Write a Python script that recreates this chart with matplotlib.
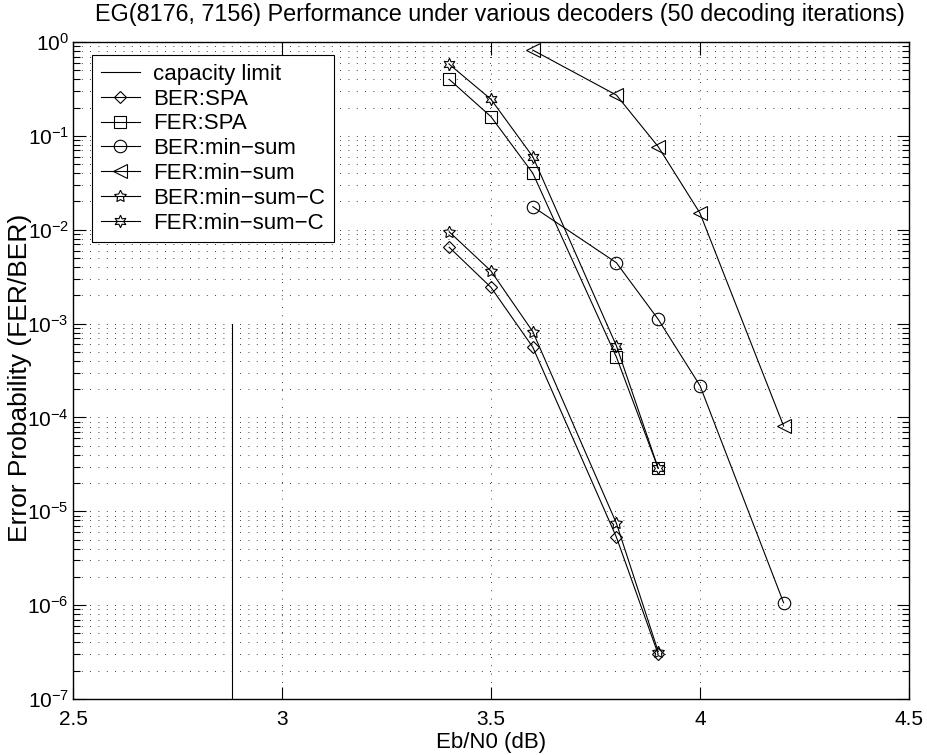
import matplotlib
matplotlib.use("Agg")
import matplotlib.pyplot as plt
from matplotlib.ticker import LogLocator, FixedLocator, FuncFormatter
import numpy as np

plt.rcParams['font.family'] = ['Liberation Sans', 'DejaVu Sans']
plt.rcParams['mathtext.fontset'] = 'custom'
plt.rcParams['mathtext.rm'] = 'Liberation Sans'
plt.rcParams['mathtext.it'] = 'Liberation Sans:italic'
plt.rcParams['mathtext.bf'] = 'Liberation Sans:bold'
plt.rcParams['axes.unicode_minus'] = True

# Data
cap_x = [2.88, 2.88]
cap_y = [1e-7, 1e-3]

snr_spa = [3.4, 3.5, 3.6, 3.8, 3.9]
ber_spa = [6.5e-3, 2.43e-3, 5.6e-4, 5.3e-6, 3.0e-7]
fer_spa = [0.40, 0.16, 0.040, 4.4e-4, 2.87e-5]

snr_ms = [3.6, 3.8, 3.9, 4.0, 4.2]
ber_ms = [0.0176, 4.45e-3, 1.11e-3, 2.18e-4, 1.06e-6]

snr_fms = [3.6, 3.8, 3.9, 4.0, 4.2]
fer_ms = [0.82, 0.272, 0.0767, 0.015, 8.1e-5]

snr_msc = [3.4, 3.5, 3.6, 3.8, 3.9]
ber_msc = [9.5e-3, 3.63e-3, 8.2e-4, 7.45e-6, 3.2e-7]
fer_msc = [0.58, 0.245, 0.060, 5.8e-4, 2.87e-5]

labels = ['capacity limit', 'BER:SPA', 'FER:SPA', 'BER:min\u2212sum',
          'FER:min\u2212sum', 'BER:min\u2212sum\u2212C', 'FER:min\u2212sum\u2212C']

xticks = [2.5, 3, 3.5, 4, 4.5]
xticklabels = ['2.5', '3', '3.5', '4', '4.5']

fig = plt.figure(figsize=(9.27, 7.55), dpi=100)
ax = fig.add_axes([73/927, 1-699/755, 836/927, 657/755])

lw = 0.8
common = dict(color='black', lw=lw, mfc='none', mec='black', mew=0.8)
ax.plot(cap_x, cap_y, color='black', lw=lw, label=labels[0])
ax.plot(snr_spa, ber_spa, marker='D', ms=6.5, label=labels[1], **common)
ax.plot(snr_spa, fer_spa, marker='s', ms=8, label=labels[2], **common)
ax.plot(snr_ms, ber_ms, marker='o', ms=9, label=labels[3], **common)
ax.plot(snr_fms, fer_ms, marker='<', ms=10, label=labels[4], **common)
ax.plot(snr_msc, ber_msc, marker=(5, 1, 0), ms=9, label=labels[5], **common)
ax.plot(snr_msc, fer_msc, marker=(6, 1, 0), ms=9, label=labels[6], **common)

ax.set_yscale('log')
ax.set_xlim(2.5, 4.5)
ax.set_ylim(1e-7, 1)
ax.xaxis.set_major_locator(FixedLocator(xticks))
ax.set_xticklabels(xticklabels)
ax.yaxis.set_major_locator(LogLocator(base=10, numticks=20))
ax.yaxis.set_minor_locator(LogLocator(base=10, subs=np.arange(2, 10), numticks=20))
ax.yaxis.set_minor_formatter(FuncFormatter(lambda v, p: ''))
ax.yaxis.set_major_formatter(FuncFormatter(lambda v, p: r'$10^{%d}$' % int(round(np.log10(v)))))

ax.tick_params(which='both', direction='in', top=True, right=True, labelsize=15, width=0.8)
ax.tick_params(axis='x', which='major', length=9, pad=8)
ax.tick_params(axis='y', which='major', length=9, pad=3)
ax.tick_params(axis='y', which='minor', length=5)

grid_kw = dict(color='black', linestyle=(0, (1, 9)), linewidth=0.6)
ax.grid(True, which='major', axis='x', **grid_kw)
ax.grid(True, which='both', axis='y', **grid_kw)
ax.set_axisbelow(True)

for s in ax.spines.values():
    s.set_linewidth(1.0)

ax.set_title('EG(8176, 7156) Performance under various decoders (50 decoding iterations)',
             fontsize=16.8, pad=15, x=0.511)
ax.set_xlabel('Eb/N0 (dB)', fontsize=16, labelpad=2)
ax.set_ylabel('Error Probability (FER/BER)', fontsize=19)
ax.yaxis.set_label_coords(-41/836, 0.489)

leg = ax.legend(loc='upper left', bbox_to_anchor=(19/836, 1-13/657), borderaxespad=0,
                fontsize=16, handlelength=1.75, labelspacing=0.17, borderpad=0.4,
                handletextpad=0.6, fancybox=False, framealpha=1, edgecolor='black')
leg.get_frame().set_linewidth(0.8)

fig.savefig('out.png', dpi=100)
